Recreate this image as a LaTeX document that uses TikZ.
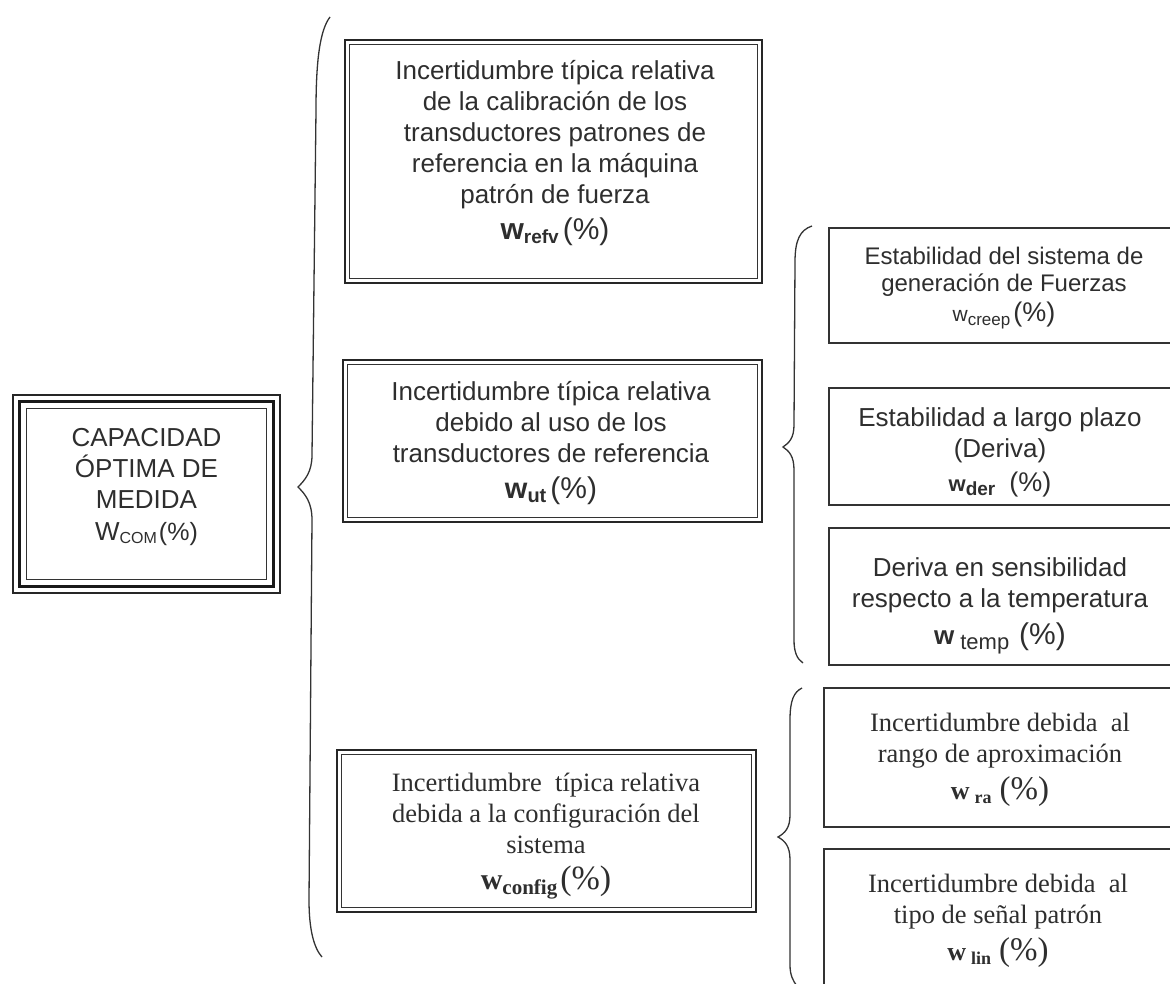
\documentclass[tikz,border=0pt]{standalone}
\usepackage{fontspec}
\setmainfont{Liberation Sans}
\newfontfamily\serifx{Liberation Serif}
\newcommand\fsz[1]{\fontsize{#1}{#1}\selectfont}
\tikzset{
  lbl/.style={inner sep=0pt, align=center, text=black!82},
  sansf/.style={font=\fontsize{26}{31}\selectfont},
  sansg/.style={font=\fontsize{24}{27}\selectfont},
  serff/.style={font=\serifx\fontsize{26.5}{31}\selectfont},
  dblbox/.style={draw=black!85, line width=2.4pt, inner sep=0pt},
  tribox/.style={draw=black!85, line width=1.4pt, inner sep=0pt},
  plainbox/.style={draw=black!80, line width=1.4pt, inner sep=0pt},
  innerline/.style={draw=black!80, line width=1.1pt},
  thickline/.style={draw=black!90, line width=3.2pt},
  brc/.style={draw=black!80, line width=1.3pt},
}
\begin{document}
\begin{tikzpicture}[x=1pt,y=-1pt]
\useasboundingbox (0,0) rectangle (1170,984);
\clip (0,0) rectangle (1170,984);

% ---------- left box (triple border)
\node[tribox, minimum width=267pt, minimum height=198pt] (cap) at (146.5,494) {};
\draw[thickline] ([xshift=7.5pt,yshift=-7.5pt]cap.north west) rectangle ([xshift=-7.5pt,yshift=7.5pt]cap.south east);
\draw[innerline] ([xshift=14pt,yshift=-14pt]cap.north west) rectangle ([xshift=-14pt,yshift=14pt]cap.south east);
\node[lbl, sansf] (capt) at (146.5,487) {CAPACIDAD\\ÓPTIMA DE\\MEDIDA\\[1pt]{\fsz{26}W}\raisebox{-3pt}{\fsz{16}COM}\hspace{2pt}{\fsz{25}(\%)}};

% ---------- middle column (double borders)
\node[dblbox, minimum width=417pt, minimum height=243pt] (refv) at (553.5,161.5) {};
\draw[innerline] ([xshift=5.5pt,yshift=-5.5pt]refv.north west) rectangle ([xshift=-5.5pt,yshift=5.5pt]refv.south east);
\node[lbl, sansf] (refvt) at (555,153) {Incertidumbre típica relativa\\de la calibración de los\\transductores patrones de\\referencia en la máquina\\patrón de fuerza\\[5pt]{\fsz{30}\bfseries w}\raisebox{-4pt}{\fsz{19}\bfseries refv}\hspace{4pt}{\fsz{30}(\%)}};

\node[dblbox, minimum width=419pt, minimum height=162pt] (ut) at (552.5,441) {};
\draw[innerline] ([xshift=5.5pt,yshift=-5.5pt]ut.north west) rectangle ([xshift=-5.5pt,yshift=5.5pt]ut.south east);
\node[lbl, sansf] (utt) at (551,443) {Incertidumbre típica relativa\\debido al uso de los\\transductores de referencia\\[5pt]{\fsz{29}\bfseries w}\raisebox{-4pt}{\fsz{20}\bfseries ut}\hspace{4pt}{\fsz{30}(\%)}};

\node[dblbox, minimum width=419pt, minimum height=162pt] (cfg) at (546.5,831) {};
\draw[innerline] ([xshift=5.5pt,yshift=-5.5pt]cfg.north west) rectangle ([xshift=-5.5pt,yshift=5.5pt]cfg.south east);
\node[lbl, serff] (cfgt) at (546,836) {Incertidumbre~ típica relativa\\debida a la configuración del\\sistema\\[5pt]{\fsz{30}\bfseries w}\raisebox{-5pt}{\fsz{21}\bfseries config}\hspace{3pt}{\fsz{34}(\%)}};

% ---------- right column (boxes run past the right edge)
\node[plainbox, minimum width=351pt, minimum height=115pt] (creep) at (1004.5,285.5) {};
\node[lbl, sansg] (creept) at (1004,288) {Estabilidad del sistema de\\generación de Fuerzas\\[3pt]{\fsz{21}w}\raisebox{-4pt}{\fsz{17}creep}\hspace{3pt}{\fsz{27}(\%)}};

\node[plainbox, minimum width=351pt, minimum height=117pt] (der) at (1004.5,446.5) {};
\node[lbl, sansf] (dert) at (1000,452) {Estabilidad a largo plazo\\(Deriva)\\[3pt]{\fsz{22}\bfseries w}\raisebox{-4pt}{\fsz{19}\bfseries der}\hspace{14pt}{\fsz{27}(\%)}};

\node[plainbox, minimum width=351pt, minimum height=137pt] (temp) at (1004.5,596.5) {};
\node[lbl, sansf] (tempt) at (1000,606) {Deriva en sensibilidad\\respecto a la temperatura\\[6pt]{\fsz{26}\bfseries w}\hspace{6pt}\raisebox{-5pt}{\fsz{22}temp}\hspace{10pt}{\fsz{30}(\%)}};

\node[plainbox, minimum width=356pt, minimum height=139pt] (ra) at (1002,757.5) {};
\node[lbl, serff] (rat) at (1000,760) {Incertidumbre debida~ al\\rango de aproximación\\[6pt]{\fsz{26}\bfseries w}\hspace{5pt}\raisebox{-4pt}{\fsz{18}\bfseries ra}\hspace{8pt}{\fsz{33}(\%)}};

\node[plainbox, minimum width=356pt, minimum height=150pt] (lin) at (1002,924) {};
\node[lbl, serff] (lint) at (998,921) {Incertidumbre debida~ al\\tipo de señal patrón\\[6pt]{\fsz{26}\bfseries w}\hspace{5pt}\raisebox{-4pt}{\fsz{18}\bfseries lin}\hspace{8pt}{\fsz{33}(\%)}};

% ---------- braces
\coordinate (b1top) at (330,17);
\coordinate (b1tip) at (298,487);
\coordinate (b1bot) at (322,957);
\draw[brc] (b1top) .. controls (320,30) and (316,60) .. (316,110) -- (312,455)
  .. controls (312,472) and (305,480) .. (b1tip)
  .. controls (305,494) and (312,502) .. (312,520) -- (309,900)
  .. controls (309,930) and (314,948) .. (b1bot);

\coordinate (b2top) at (812,226);
\coordinate (b2tip) at (783,447);
\coordinate (b2bot) at (803,663);
\draw[brc] (b2top) .. controls (800,230) and (795,240) .. (795,262) -- (794,425)
  .. controls (794,438) and (789,443) .. (b2tip)
  .. controls (789,451) and (794,456) .. (794,470) -- (794,640)
  .. controls (794,652) and (797,659) .. (b2bot);

\coordinate (b3top) at (802,688);
\coordinate (b3tip) at (778,837);
\coordinate (b3bot) at (797,986);
\draw[brc] (b3top) .. controls (794,692) and (790,700) .. (790,720) -- (790,815)
  .. controls (790,828) and (785,833) .. (b3tip)
  .. controls (785,841) and (790,846) .. (790,860) -- (790,965)
  .. controls (790,975) and (793,981) .. (b3bot);
\end{tikzpicture}
\end{document}
